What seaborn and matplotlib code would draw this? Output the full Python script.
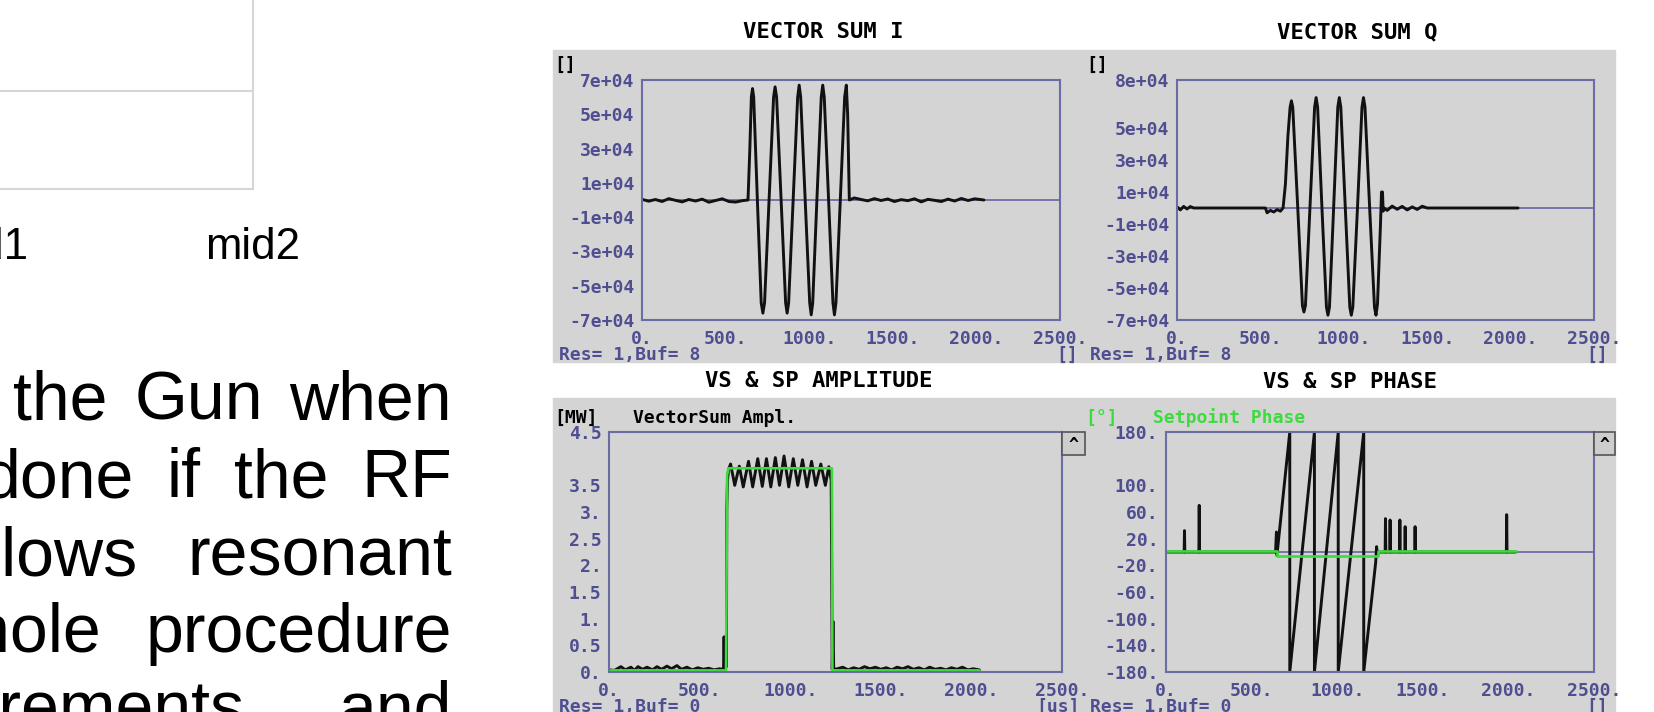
import matplotlib
matplotlib.use("Agg")
import matplotlib.pyplot as plt
import seaborn as sns
from matplotlib.patches import Rectangle
from matplotlib.ticker import FixedLocator, FixedFormatter, MultipleLocator

W, H = 1654, 712

# ---------------- data ----------------
# slide fragment on the left
frag_cats = ["mid1", "mid2"]
para_words = [
    ["the", "Gun", "when"],
    ["done", "if", "the", "RF"],
    ["allows", "resonant"],
    ["whole", "procedure"],
    ["measurements", "and"],
]

# common time axis of the scope panels [us]
x_ticks = [0, 500, 1000, 1500, 2000, 2500]
x_labels = ["0.", "500.", "1000.", "1500.", "2000.", "2500."]

# VECTOR SUM I
i_yticks = [7e4, 5e4, 3e4, 1e4, -1e4, -3e4, -5e4, -7e4]
i_ylabels = ["7e+04", "5e+04", "3e+04", "1e+04", "-1e+04", "-3e+04", "-5e+04", "-7e+04"]
i_yminor = [6e4, 4e4, 2e4, 0, -2e4, -4e4, -6e4]
i_pre_t = [0, 40, 80, 120, 160, 200, 240, 280, 320, 360, 400, 440, 480, 520, 560, 600, 634]
i_pre_v = [400, -700, 300, -900, 800, -200, -1100, 300, -600, 500, -1300, -300, 700, -900, -1200, -400, 0]
i_pulse_t = [645, 654, 661, 668, 690, 713, 723, 733, 760, 787, 796, 805, 832, 859, 868, 877,
             904, 931, 940, 949, 976, 1003, 1012, 1021, 1046, 1072, 1081, 1090, 1116, 1142,
             1151, 1160, 1186, 1212, 1222, 1230, 1240]
i_pulse_v = [3.0e4, 6.0e4, 6.5e4, 6.0e4, 0, -6.0e4, -6.6e4, -6.0e4, 0, 6.0e4, 6.6e4, 6.0e4,
             0, -6.0e4, -6.6e4, -6.0e4, 0, 6.0e4, 6.7e4, 6.0e4, 0, -6.0e4, -6.7e4, -6.0e4,
             0, 6.0e4, 6.7e4, 6.0e4, 0, -6.0e4, -6.7e4, -6.0e4, 0, 6.0e4, 6.7e4, 5.0e4, 0]
i_post_t = [1270, 1310, 1350, 1390, 1430, 1470, 1510, 1550, 1590, 1630, 1670, 1710, 1750,
            1790, 1830, 1870, 1910, 1950, 1990, 2045]
i_post_v = [1200, 300, -500, 800, -300, 600, -900, 200, -400, 700, -1100, 400, -200, -900,
            500, -600, 900, -300, 700, 0]

# VECTOR SUM Q
q_yticks = [8e4, 5e4, 3e4, 1e4, -1e4, -3e4, -5e4, -7e4]
q_ylabels = ["8e+04", "5e+04", "3e+04", "1e+04", "-1e+04", "-3e+04", "-5e+04", "-7e+04"]
q_yminor = [7e4, 6e4, 4e4, 2e4, 0, -2e4, -4e4, -6e4]
q_pre_t = [0, 20, 40, 60, 80, 100, 530, 540, 560, 580, 600, 620, 636]
q_pre_v = [800, -1200, 1000, -600, 900, 0, 0, -3000, -1500, -2500, -1000, -2000, 0]
q_pulse_t = [650, 665, 678, 686, 694, 724, 752, 761, 770, 797, 825, 834, 843, 869, 896, 905,
             914, 939, 964, 973, 982, 1009, 1036, 1045, 1054, 1082, 1109, 1118, 1127, 1155,
             1184, 1193, 1202, 1220, 1226, 1232, 1236, 1240]
q_pulse_v = [1.5e4, 4.5e4, 6.3e4, 6.7e4, 6.3e4, 0, -6.1e4, -6.5e4, -6.1e4, 0, 6.3e4, 6.9e4,
             6.3e4, 0, -6.2e4, -6.7e4, -6.2e4, 0, 6.3e4, 6.9e4, 6.3e4, 0, -6.2e4, -6.7e4,
             -6.2e4, 0, 6.3e4, 6.9e4, 6.3e4, 0, -6.2e4, -6.7e4, -6.0e4, -1.0e4, 1.0e4, 1.0e4,
             -2000, 0]
q_post_t = [1260, 1290, 1320, 1350, 1380, 1410, 1440, 1470, 1500, 2045]
q_post_v = [-1500, 1200, -800, 1000, -1200, 700, -900, 1100, 0, 0]

# VS & SP AMPLITUDE [MW]
a_yticks = [4.5, 3.5, 3.0, 2.5, 2.0, 1.5, 1.0, 0.5, 0.0]
a_ylabels = ["4.5", "3.5", "3.", "2.5", "2.", "1.5", "1.", "0.5", "0."]
a_yminor = [4.0]
a_pre_t = [0, 30, 66, 90, 121, 140, 160, 185, 210, 240, 265, 290, 320, 345, 375, 400, 430,
           460, 490, 520, 550, 580, 610, 632]
a_pre_v = [0.04, 0.03, 0.10, 0.04, 0.09, 0.03, 0.10, 0.05, 0.09, 0.04, 0.10, 0.05, 0.11,
           0.06, 0.12, 0.05, 0.09, 0.04, 0.08, 0.05, 0.07, 0.04, 0.06, 0.05]
a_pulse_t = [635, 638, 648, 650, 654, 660, 671, 694, 719, 741, 770, 793, 821, 846, 869, 893,
             918, 941, 966, 992, 1017, 1042, 1068, 1093, 1118, 1141, 1169, 1194, 1213, 1226,
             1232, 1236, 1240]
a_pulse_v = [0.66, 0.05, 0.1, 3.05, 3.6, 3.8, 3.9, 3.5, 3.86, 3.47, 3.95, 3.47, 4.0, 3.48,
             4.0, 3.47, 4.02, 3.5, 4.05, 3.47, 4.0, 3.5, 3.98, 3.47, 3.95, 3.5, 3.9, 3.5,
             3.85, 3.6, 0.05, 0.95, 0.05]
a_post_t = [1260, 1290, 1320, 1350, 1380, 1410, 1440, 1470, 1500, 1530, 1560, 1590, 1620,
            1650, 1680, 1710, 1740, 1770, 1800, 1830, 1860, 1890, 1920, 1950, 1980, 2010, 2044]
a_post_v = [0.06, 0.09, 0.04, 0.08, 0.05, 0.10, 0.06, 0.09, 0.05, 0.08, 0.04, 0.09, 0.06,
            0.10, 0.05, 0.08, 0.04, 0.09, 0.05, 0.07, 0.04, 0.08, 0.05, 0.09, 0.04, 0.06, 0.04]
sp_amp_t = [0, 646, 652, 660, 1230, 1233, 2044]
sp_amp_v = [0.03, 0.03, 3.7, 3.82, 3.82, 0.03, 0.03]

# VS & SP PHASE [deg]
p_yticks = [180, 100, 60, 20, -20, -60, -100, -140, -180]
p_ylabels = ["180.", "100.", "60.", "20.", "-20.", "-60.", "-100.", "-140.", "-180."]
ph_t = [0, 106, 108, 110, 192, 194, 196, 640, 645, 648, 723, 723, 867, 867, 1006, 1006,
        1155, 1155, 1225, 1230, 1236, 1242, 1280, 1282, 1284, 1307, 1309, 1311, 1364, 1366,
        1368, 1395, 1397, 1399, 1453, 1455, 1457, 1988, 1990, 1992, 2043]
ph_v = [0, 0, 32, 0, 0, 70, 0, 0, 30, -5, 180, -180, 180, -180, 180, -180, 180, -180, -15,
        8, -5, 0, 0, 50, 0, 0, 48, 0, 0, 48, 0, 0, 38, 0, 0, 38, 0, 0, 56, 0, 0]
sp_ph_t = [0, 646, 646, 1236, 1236, 2043]
sp_ph_v = [1.5, 1.5, -6.5, -6.5, 1.5, 1.5]

# ---------------- style ----------------
sns.set_style("white")
plt.rcParams["font.family"] = ["DejaVu Sans Mono"]
plt.rcParams["font.weight"] = "bold"

GRAY = "#d4d4d4"
FRAME = "#6c6ca4"
LAB = "#4e4e90"
GREEN = "#3ddc3d"
BLACK = "#111111"
GRID = "#d6d6d6"

fig = plt.figure(figsize=(W / 100, H / 100), dpi=100)


def px_axes(x0, y0, x1, y1):
    return fig.add_axes([x0 / W, 1 - y1 / H, (x1 - x0) / W, (y1 - y0) / H])


def ptext(x, y, s, **kw):
    kw.setdefault("fontsize", 13)
    kw.setdefault("va", "center")
    return fig.text(x / W, 1 - y / H, s, **kw)


# ---------------- left slide fragment ----------------
frag = px_axes(-150, -10, 253, 189)
frag.set_facecolor("none")
frag.set_xlim(-0.48, 1.0)
frag.set_ylim(0, 2.03)
frag.set_xticks(range(len(frag_cats)))
frag.set_xticklabels(frag_cats, fontsize=31.5, family="Liberation Sans",
                     fontweight="normal", color="black")
frag.set_yticks([0, 1, 2])
frag.yaxis.grid(True, color=GRID, lw=1.5)
frag.tick_params(axis="y", left=False, labelleft=False)
frag.tick_params(axis="x", direction="out", length=13.7, width=1.5, color=GRID, pad=14)
for side, sp in frag.spines.items():
    sp.set_visible(side in ("bottom", "right"))
    sp.set_color(GRID)
    sp.set_linewidth(1.5)

# justified paragraph, cut off by the left edge
para_left = [13, -18, -52, -77, -206]
para_base = [420, 497, 575, 652, 729]
para_right = 452
renderer = fig.canvas.get_renderer()
for words, x_left, base in zip(para_words, para_left, para_base):
    texts = [fig.text(0, 1 - base / H, w, fontsize=49, family="Liberation Sans",
                      fontweight="normal", color="black", va="baseline") for w in words]
    widths = [t.get_window_extent(renderer).width for t in texts]
    gap = (para_right - x_left - sum(widths)) / (len(words) - 1)
    x = x_left
    for t, wd in zip(texts, widths):
        t.set_x(x / W)
        x += wd + gap

# ---------------- scope panels ----------------
fig.add_artist(Rectangle((553 / W, 1 - 362 / H), 1062 / W, 312 / H,
                         transform=fig.transFigure, color=GRAY, zorder=-5))
fig.add_artist(Rectangle((553 / W, 0), 1062 / W, 1 - 398 / H,
                         transform=fig.transFigure, color=GRAY, zorder=-5))


def scope(ax, ylim, yticks, ylabels, yminor):
    ax.set_facecolor("none")
    ax.set_xlim(0, 2500)
    ax.set_ylim(*ylim)
    ax.set_xlabel("")
    ax.set_ylabel("")
    ax.xaxis.set_major_locator(FixedLocator(x_ticks))
    ax.xaxis.set_major_formatter(FixedFormatter(x_labels))
    ax.xaxis.set_minor_locator(MultipleLocator(100))
    ax.yaxis.set_major_locator(FixedLocator(yticks))
    ax.yaxis.set_major_formatter(FixedFormatter(ylabels))
    ax.yaxis.set_minor_locator(FixedLocator(yminor))
    for sp in ax.spines.values():
        sp.set_visible(True)
        sp.set_color(FRAME)
        sp.set_linewidth(1.5)
    ax.tick_params(axis="x", which="major", direction="in", length=9, width=1.4,
                   color=FRAME, pad=7)
    ax.tick_params(axis="x", which="minor", direction="in", length=4.5, width=1.2, color=FRAME)
    ax.tick_params(axis="y", which="major", direction="inout", length=9, width=1.4,
                   color=FRAME, pad=1)
    ax.tick_params(axis="y", which="minor", direction="in", length=4.5, width=1.2, color=FRAME)
    ax.tick_params(labelcolor=LAB, labelsize=13)


def trace(ax, t, v, color, lw=2.1):
    sns.lineplot(x=t, y=v, ax=ax, color=color, linewidth=lw, estimator=None,
                 sort=False, legend=False)


ax_i = px_axes(642, 80, 1060, 320)
ax_i.axhline(0, color=FRAME, lw=1.3, zorder=1)
trace(ax_i, i_pre_t + i_pulse_t + i_post_t, i_pre_v + i_pulse_v + i_post_v, BLACK)
scope(ax_i, (-7e4, 7e4), i_yticks, i_ylabels, i_yminor)

ax_q = px_axes(1177, 80, 1594, 320)
ax_q.axhline(0, color=FRAME, lw=1.3, zorder=1)
trace(ax_q, q_pre_t + q_pulse_t + q_post_t, q_pre_v + q_pulse_v + q_post_v, BLACK)
scope(ax_q, (-7e4, 8e4), q_yticks, q_ylabels, q_yminor)

ax_a = px_axes(609, 432, 1062, 672)
trace(ax_a, a_pre_t + a_pulse_t + a_post_t, a_pre_v + a_pulse_v + a_post_v, BLACK)
trace(ax_a, sp_amp_t, sp_amp_v, GREEN, lw=1.9)
scope(ax_a, (0, 4.5), a_yticks, a_ylabels, a_yminor)

ax_p = px_axes(1166, 432, 1594, 672)
ax_p.axhline(0, color=FRAME, lw=1.3, zorder=1)
trace(ax_p, ph_t, ph_v, BLACK)
trace(ax_p, sp_ph_t, sp_ph_v, GREEN, lw=1.9)
scope(ax_p, (-180, 180), p_yticks, p_ylabels, list(range(-170, 180, 10)))

# titles and labels
for s, x, y in [("VECTOR SUM I", 823, 32), ("VECTOR SUM Q", 1357, 32),
                ("VS & SP AMPLITUDE", 819, 381), ("VS & SP PHASE", 1350, 382)]:
    ptext(x, y, s, fontsize=16, ha="center", color="black")

ptext(554, 65, "[]", color="black")
ptext(1086, 65, "[]", color="black")
ptext(554, 418, "[MW]", color="black")
ptext(633, 418, "VectorSum Ampl.", color="black")
ptext(1085, 418, "[°]", color=GREEN)
ptext(1153, 418, "Setpoint Phase", color=GREEN)

ptext(559, 355, "Res= 1,Buf= 8", color=LAB)
ptext(1090, 355, "Res= 1,Buf= 8", color=LAB)
ptext(1078, 355, "[]", color=LAB, ha="right")
ptext(1608, 355, "[]", color=LAB, ha="right")
ptext(559, 707, "Res= 1,Buf= 0", color=LAB)
ptext(1090, 707, "Res= 1,Buf= 0", color=LAB)
ptext(1080, 707, "[us]", color=LAB, ha="right")
ptext(1608, 707, "[]", color=LAB, ha="right")

# little "^" buttons at the right of the lower frames
for bx0, bx1 in [(1062, 1085), (1594, 1615)]:
    fig.add_artist(Rectangle((bx0 / W, 1 - 455 / H), (bx1 - bx0) / W, 23 / H,
                             transform=fig.transFigure, facecolor="#cdcdcd",
                             edgecolor="#555555", lw=1.2, zorder=4))
    ptext((bx0 + bx1) / 2, 445, "^", ha="center", color="black", fontsize=12, zorder=5)

fig.savefig("out.png", dpi=100)
